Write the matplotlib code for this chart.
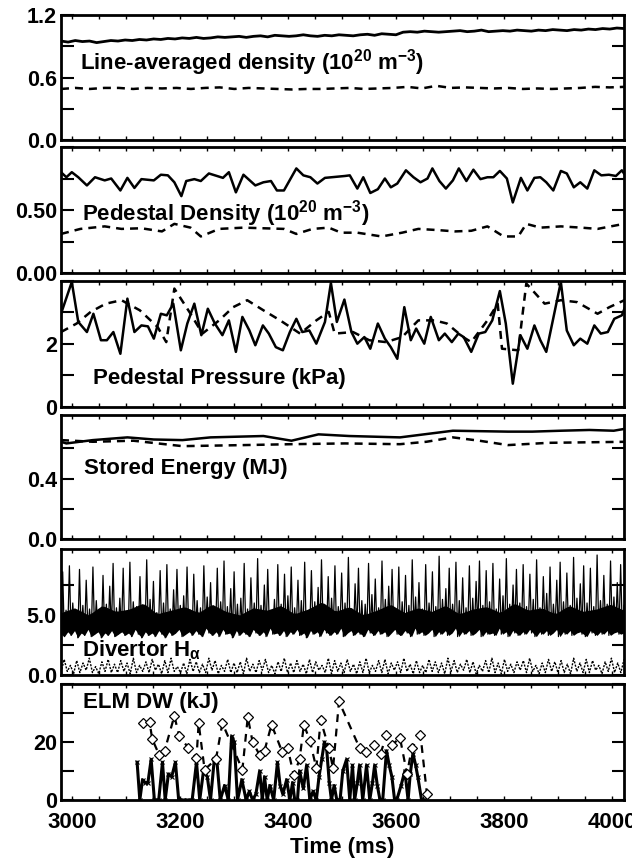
import numpy as np
import matplotlib
matplotlib.use("Agg")
from matplotlib import pyplot as plt
from matplotlib.ticker import MultipleLocator

plt.rcParams['font.family'] = ['Liberation Sans', 'DejaVu Sans']
plt.rcParams['font.weight'] = 'bold'
plt.rcParams['mathtext.fontset'] = 'custom'
plt.rcParams['mathtext.rm'] = 'Liberation Sans:bold'
plt.rcParams['mathtext.it'] = 'Liberation Sans:bold'
plt.rcParams['mathtext.bf'] = 'Liberation Sans:bold'
plt.rcParams['mathtext.default'] = 'rm'

T0, T1 = 2979, 4022

# --- line-averaged density (10^20 m^-3) ---
nel_a = [0.95, 0.94, 0.955, 0.945, 0.95, 0.935, 0.945, 0.955, 0.95, 0.96,
         0.955, 0.965, 0.96, 0.97, 0.965, 0.975, 0.97, 0.98, 0.975, 0.985,
         0.975, 0.98, 0.99, 0.985, 0.99, 0.995, 0.985, 0.995, 1.0, 0.99,
         1.005, 1.0, 0.995, 1.0, 1.01, 1.0, 0.995, 1.005, 1.0, 1.01,
         1.005, 1.0, 1.01, 1.015, 1.005, 1.02, 1.015, 1.01, 1.035, 1.04,
         1.035, 1.045, 1.04, 1.035, 1.04, 1.045, 1.05, 1.04, 1.045, 1.055,
         1.04, 1.045, 1.05, 1.045, 1.055, 1.05, 1.045, 1.055, 1.05, 1.06,
         1.055, 1.05, 1.06, 1.055, 1.065, 1.06, 1.07, 1.065, 1.075, 1.07]
nel_b = [0.49, 0.5, 0.49, 0.5, 0.5, 0.49, 0.5, 0.495, 0.5, 0.49,
         0.5, 0.505, 0.49, 0.5, 0.495, 0.49, 0.485, 0.49, 0.49, 0.495,
         0.5, 0.49, 0.495, 0.5, 0.51, 0.495, 0.52, 0.5, 0.505, 0.5,
         0.495, 0.5, 0.49, 0.495, 0.49, 0.495, 0.5, 0.51, 0.505, 0.51]

# --- pedestal density ---
ned_a_t = [2979, 2989, 2999, 3011, 3027, 3042, 3060, 3072, 3089, 3102,
           3115, 3128, 3151, 3164, 3177, 3189, 3202, 3211, 3226, 3238,
           3253, 3268, 3279, 3290, 3303, 3317, 3339, 3354, 3368, 3379,
           3392, 3415, 3428, 3441, 3454, 3468, 3505, 3514, 3528, 3539,
           3552, 3566, 3579, 3590, 3602, 3618, 3632, 3645, 3658, 3667,
           3680, 3692, 3705, 3716, 3730, 3743, 3756, 3769, 3780, 3792,
           3805, 3816, 3831, 3843, 3856, 3867, 3878, 3891, 3905, 3916,
           3929, 3941, 3954, 3967, 3980, 3994, 4007, 4018, 4022]
ned_a = [0.80, 0.76, 0.80, 0.76, 0.695, 0.76, 0.735, 0.75, 0.655, 0.755,
         0.675, 0.745, 0.735, 0.78, 0.775, 0.72, 0.61, 0.73, 0.745, 0.73,
         0.79, 0.77, 0.755, 0.80, 0.64, 0.78, 0.695, 0.72, 0.73, 0.655,
         0.655, 0.83, 0.775, 0.76, 0.71, 0.755, 0.77, 0.775, 0.67, 0.76,
         0.635, 0.665, 0.75, 0.68, 0.71, 0.815, 0.76, 0.72, 0.75, 0.83,
         0.73, 0.67, 0.735, 0.83, 0.73, 0.82, 0.745, 0.76, 0.76, 0.81,
         0.75, 0.56, 0.755, 0.655, 0.755, 0.76, 0.72, 0.655, 0.81, 0.79,
         0.68, 0.72, 0.67, 0.815, 0.775, 0.78, 0.77, 0.815, 0.79]
ned_b_t = [2979, 3015, 3060, 3091, 3128, 3166, 3189, 3219, 3238, 3272,
           3317, 3354, 3392, 3415, 3445, 3475, 3498, 3528, 3573, 3611,
           3641, 3679, 3709, 3739, 3769, 3799, 3826, 3841, 3867, 3905,
           3943, 3973, 4022]
ned_b = [0.31, 0.35, 0.37, 0.35, 0.355, 0.33, 0.39, 0.36, 0.29, 0.35,
         0.36, 0.355, 0.35, 0.31, 0.35, 0.36, 0.32, 0.32, 0.29, 0.32,
         0.35, 0.34, 0.33, 0.335, 0.37, 0.29, 0.29, 0.39, 0.36, 0.37,
         0.36, 0.35, 0.39]

# --- pedestal pressure (kPa) ---
pp_a_t = [2979, 2999, 3011, 3027, 3039, 3053, 3064, 3076, 3089, 3102,
          3115, 3128, 3140, 3151, 3164, 3175, 3187, 3201, 3213, 3226,
          3239, 3251, 3264, 3278, 3290, 3303, 3315, 3328, 3339, 3353,
          3364, 3377, 3390, 3403, 3415, 3426, 3439, 3452, 3468, 3479,
          3490, 3504, 3517, 3528, 3541, 3552, 3566, 3579, 3590, 3602,
          3615, 3627, 3637, 3652, 3664, 3679, 3690, 3703, 3715, 3725,
          3739, 3753, 3765, 3778, 3792, 3803, 3816, 3830, 3843, 3856,
          3867, 3878, 3905, 3916, 3929, 3941, 3954, 3967, 3979, 3992,
          4004, 4018, 4029]
pp_a = [2.96, 3.97, 2.70, 2.38, 2.96, 2.12, 2.12, 2.38, 1.69, 3.44,
        2.38, 2.59, 2.56, 2.17, 2.96, 2.91, 3.28, 1.80, 2.65, 3.28,
        2.28, 3.12, 2.65, 2.28, 2.75, 1.75, 2.86, 2.43, 1.96, 2.59,
        2.33, 1.90, 1.80, 2.38, 2.80, 2.38, 2.43, 2.01, 2.70, 3.94,
        2.70, 3.41, 2.38, 2.01, 2.22, 1.85, 2.65, 2.17, 1.90, 1.53,
        3.17, 2.12, 2.49, 2.01, 2.86, 2.12, 2.33, 2.06, 2.33, 2.22,
        1.75, 2.33, 2.38, 2.75, 3.68, 2.65, 0.74, 2.28, 1.85, 2.59,
        2.12, 1.75, 3.97, 2.43, 1.96, 2.17, 2.01, 2.59, 2.33, 2.38,
        2.80, 2.91, 3.39]
pp_b_t = [2979, 3008, 3034, 3062, 3091, 3125, 3158, 3174, 3189, 3219,
          3241, 3272, 3298, 3324, 3354, 3385, 3422, 3452, 3475, 3486,
          3520, 3550, 3581, 3611, 3641, 3671, 3694, 3724, 3739, 3769,
          3788, 3796, 3826, 3841, 3875, 3905, 3935, 3973, 3995, 4029]
pp_b = [2.38, 2.65, 3.02, 3.28, 3.39, 3.07, 2.54, 2.06, 3.76, 2.96,
        2.33, 2.75, 3.17, 3.39, 3.07, 2.75, 2.33, 2.75, 3.02, 2.33,
        2.38, 2.12, 2.06, 2.22, 2.75, 2.75, 2.65, 2.22, 2.06, 2.75,
        3.28, 1.85, 1.80, 3.92, 3.28, 3.39, 3.33, 2.96, 3.17, 3.44]

# --- stored energy (MJ) ---
we_a_t = [2979, 2989, 3038, 3102, 3151, 3204, 3256, 3354, 3406, 3456,
          3513, 3607, 3656, 3705, 3807, 3852, 3905, 3958, 4003, 4029]
we_a = [0.643, 0.632, 0.654, 0.672, 0.658, 0.654, 0.672, 0.681, 0.650, 0.692,
        0.681, 0.672, 0.694, 0.716, 0.710, 0.710, 0.716, 0.721, 0.716, 0.732]
we_b_t = [2979, 3038, 3113, 3204, 3317, 3406, 3505, 3607, 3656, 3705,
          3754, 3807, 3882, 4029]
we_b = [0.654, 0.643, 0.650, 0.614, 0.621, 0.627, 0.632, 0.627, 0.643, 0.672,
        0.650, 0.621, 0.636, 0.643]

# --- divertor H-alpha: trough / peak values of consecutive ELM spikes ---
ha_lo = [3.4, 3.2, 3.6, 3.3, 3.7, 3.1, 3.5, 3.3, 3.8, 3.2, 3.4, 3.6, 3.1, 3.5, 3.3, 3.7, 3.2, 3.4, 3.6, 3.3,
         3.5, 3.2, 3.8, 3.4, 3.1, 3.6, 3.3, 3.5, 3.2, 3.7, 3.4, 3.1, 3.6, 3.3, 3.5, 3.8, 3.2, 3.4, 3.6, 3.3,
         3.7, 3.4, 3.2, 3.9, 3.5, 3.3, 3.6, 3.2, 3.8, 3.4, 3.5, 3.1, 3.7, 3.3, 3.6, 3.4, 3.2, 3.8, 3.5, 3.3,
         3.6, 3.2, 3.9, 3.4, 3.5, 3.3, 3.7, 3.2, 3.6, 3.4, 3.8, 3.3, 3.5, 3.1, 3.7, 3.4, 3.6, 3.2, 3.8, 3.5,
         3.3, 3.6, 3.4, 3.9, 3.2, 3.5, 3.7, 3.3, 3.6, 3.4, 3.2, 3.8, 3.5, 3.3, 3.7, 3.4, 3.6, 3.2, 3.5, 3.8,
         3.4, 3.3, 3.7, 3.5, 3.2, 3.9, 3.4, 3.6, 3.3, 3.5, 3.8, 3.2, 3.6, 3.4, 3.7, 3.3, 3.5, 3.9, 3.2, 3.6,
         3.4, 3.7, 3.3, 3.5, 3.8, 3.2, 3.6, 3.4, 3.5, 3.3, 3.9, 3.4, 3.6, 3.2, 3.7, 3.5, 3.3, 3.6, 3.4, 3.8,
         3.5, 3.2, 3.6, 3.4, 3.7, 3.3, 3.5, 3.8, 3.2, 3.6, 3.4, 3.7, 3.3, 3.5, 3.6, 3.4, 3.2, 3.7, 3.5, 3.3,
         3.6, 3.4, 3.7, 3.3, 3.5, 3.6, 3.4, 3.5]
ha_hi = [8.6, 5.4, 9.1, 6.0, 5.2, 8.8, 5.8, 7.9, 5.5, 9.0, 6.2, 5.1, 8.3, 5.9, 7.4, 9.3, 5.6, 6.4, 8.9, 5.3,
         9.4, 6.1, 5.7, 8.2, 5.4, 9.6, 6.3, 7.8, 5.2, 8.7, 6.0, 9.2, 5.5, 7.1, 8.8, 5.8, 6.6, 9.0, 5.4, 8.4,
         6.2, 5.6, 9.1, 6.5, 7.7, 5.3, 8.9, 6.1, 9.5, 5.7, 7.2, 8.6, 5.9, 6.4, 9.3, 5.5, 8.1, 6.0, 9.7, 5.8,
         7.5, 8.8, 5.4, 6.3, 9.2, 5.9, 8.4, 6.6, 9.0, 5.6, 7.9, 6.2, 9.4, 5.3, 8.7, 6.1, 7.3, 9.6, 5.8, 8.2,
         6.4, 9.1, 5.7, 8.5, 6.0, 9.8, 5.5, 7.6, 8.9, 6.2, 5.9, 9.3, 6.7, 8.0, 5.6, 9.5, 6.3, 7.4, 8.8, 5.4,
         9.0, 6.1, 8.3, 5.8, 9.6, 6.5, 7.7, 5.5, 9.2, 6.0, 8.6, 5.7, 9.9, 6.3, 7.2, 8.9, 5.9, 9.4, 6.2, 8.1,
         5.6, 9.1, 6.4, 7.8, 9.5, 5.8, 8.7, 6.1, 9.3, 5.5, 8.0, 6.6, 9.7, 5.9, 7.5, 8.8, 6.0, 9.2, 5.7, 8.4,
         6.3, 9.6, 5.6, 8.2, 6.8, 9.0, 5.9, 7.9, 9.4, 6.1, 8.5, 5.8, 9.8, 6.4, 7.6, 9.1, 6.0, 8.9, 5.7, 10.0,
         6.2, 8.3, 5.9, 9.5, 6.5, 7.7, 9.2, 5.8]
# upper edge of the dense inter-ELM band (sampled coarser)
ha_band = [5.2, 5.6, 5.0, 5.8, 5.3, 5.5, 6.0, 5.1, 5.4, 5.7, 5.2, 5.9, 5.3, 5.0,
           5.6, 5.4, 5.8, 5.1, 5.5, 6.1, 5.3, 5.7, 5.0, 5.4, 5.9, 5.2, 5.6, 5.3,
           5.8, 5.1, 5.5, 5.7, 5.2, 6.0, 5.4, 5.6, 5.1, 5.8, 5.3, 5.5, 5.9, 5.4]
hb_lo = [0.2, 0.3, 0.1, 0.2, 0.4, 0.2, 0.1, 0.3, 0.2, 0.2,
         0.3, 0.1, 0.2, 0.3, 0.2, 0.4, 0.1, 0.2, 0.3, 0.2,
         0.1, 0.3, 0.2, 0.2, 0.4, 0.1, 0.3, 0.2, 0.2, 0.1,
         0.3, 0.2, 0.4, 0.2, 0.1, 0.3, 0.2, 0.2, 0.3, 0.1,
         0.2, 0.4, 0.2, 0.1, 0.3, 0.2, 0.3, 0.1, 0.2, 0.2,
         0.3, 0.2, 0.1, 0.4, 0.2, 0.3, 0.1, 0.2, 0.2, 0.3,
         0.2, 0.1, 0.3, 0.2, 0.4, 0.2, 0.1, 0.3, 0.2, 0.2,
         0.1, 0.3, 0.2, 0.4, 0.2, 0.3, 0.1, 0.2, 0.3, 0.2,
         0.2, 0.1, 0.3, 0.2, 0.2, 0.4, 0.1, 0.3, 0.2, 0.2]
hb_hi = [1.3, 0.8, 1.2, 1.0, 1.4, 0.7, 1.1, 1.3, 0.9, 1.2,
         1.0, 1.4, 0.8, 1.1, 1.3, 0.9, 1.2, 1.4, 0.7, 1.0,
         1.3, 1.1, 0.9, 1.4, 1.2, 0.8, 1.3, 1.0, 1.1, 1.4,
         0.9, 1.2, 1.3, 0.8, 1.1, 1.4, 1.0, 1.2, 0.9, 1.3,
         1.1, 0.8, 1.4, 1.2, 1.0, 1.3, 0.9, 1.1, 1.4, 0.8,
         1.2, 1.3, 1.0, 1.1, 1.4, 0.9, 1.2, 0.8, 1.3, 1.1,
         1.0, 1.4, 1.2, 0.9, 1.3, 1.1, 0.8, 1.2, 1.4, 1.0,
         1.3, 0.9, 1.1, 1.2, 1.4, 0.8, 1.0, 1.3, 1.1, 1.2,
         0.9, 1.4, 1.0, 1.3, 1.2, 0.8, 1.1, 1.4, 1.0, 1.3]

# --- ELM energy loss (kJ) ---
elm_a_t = [3120, 3125, 3130, 3135, 3140, 3146, 3152, 3160, 3167, 3172,
           3178, 3184, 3191, 3197, 3205, 3212, 3222, 3230, 3236, 3243,
           3250, 3256, 3263, 3268, 3274, 3282, 3289, 3295, 3300, 3306,
           3314, 3322, 3328, 3334, 3340, 3347, 3352, 3356, 3361, 3366,
           3373, 3380, 3385, 3390, 3397, 3403, 3408, 3412, 3417, 3421,
           3428, 3434, 3440, 3446, 3452, 3457, 3462, 3467, 3471, 3476,
           3480, 3485, 3490, 3496, 3501, 3508, 3514, 3519, 3523, 3528,
           3532, 3538, 3545, 3551, 3556, 3560, 3565, 3570, 3575, 3582,
           3587, 3592, 3597, 3601, 3609, 3616, 3622, 3626, 3631, 3636,
           3640, 3647, 3652]
elm_a = [13, 0, 7, 6, 6, 14, 0, 0, 13, 0,
         9, 8, 13, 0, 0, 0, 0, 13, 0, 10,
         8, 0, 14, 13, 0, 5, 0, 22, 20, 0,
         7, 0, 3, 0, 2, 10, 0, 8, 0, 5,
         0, 13, 5, 2, 7, 0, 6, 0, 0, 10,
         4, 12, 0, 3, 0, 8, 14, 20, 18, 6,
         0, 5, 0, 0, 10, 14, 0, 12, 0, 6,
         12, 0, 12, 0, 6, 12, 5, 0, 0, 17,
         12, 8, 0, 0, 5, 10, 0, 9, 16, 12,
         8, 0, 0]
elm_b_t = [3130, 3143, 3148, 3161, 3171, 3189, 3198, 3215, 3230, 3234,
           3245, 3266, 3278, 3315, 3325, 3334, 3347, 3356, 3369, 3389,
           3399, 3410, 3421, 3429, 3440, 3452, 3460, 3475, 3483, 3494,
           3532, 3544, 3558, 3571, 3582, 3592, 3607, 3620, 3629, 3645,
           3657]
elm_b = [26.5, 27, 21, 15.5, 17, 29, 22, 18, 14.5, 26.5,
         10.5, 14, 26.5, 10.4, 28.6, 20, 15.5, 17, 26, 16.5,
         18, 8.6, 14, 26, 20.5, 11, 27.6, 18, 11, 34,
         18, 16.5, 19, 16, 22.4, 19, 21.4, 9, 18, 22.4,
         2]

# panel rectangles in pixels (top, bottom) on a 632x865 canvas
W, H = 632, 865
rows = [(15, 140), (147, 273), (281, 407), (415, 539), (549, 675), (684, 800)]
x_left, x_right = 61, 624

fig = plt.figure(figsize=(W / 100, H / 100), dpi=100)
axes = []
for top, bot in rows:
    ax = fig.add_axes([x_left / W, 1 - bot / H, (x_right - x_left) / W, (bot - top) / H])
    axes.append(ax)

dash = (3.2, 2.4)
lw = 1.8

ax = axes[0]
ax.plot(np.linspace(T0, T1, len(nel_a)), nel_a, color='k', lw=2.0)
ax.plot(np.linspace(T0, T1, len(nel_b)), nel_b, color='k', lw=lw, dashes=dash)

ax = axes[1]
ax.plot(ned_a_t, ned_a, color='k', lw=lw)
ax.plot(ned_b_t, ned_b, color='k', lw=lw, dashes=dash)

ax = axes[2]
ax.plot(pp_a_t, pp_a, color='k', lw=lw)
ax.plot(pp_b_t, pp_b, color='k', lw=lw, dashes=dash)

ax = axes[3]
ax.plot(we_a_t, we_a, color='k', lw=lw)
ax.plot(we_b_t, we_b, color='k', lw=lw, dashes=dash)

ax = axes[4]
t_pair = np.linspace(T0, T1, len(ha_lo))
band_top = np.interp(t_pair, np.linspace(T0, T1, len(ha_band)), ha_band)
ax.fill_between(t_pair, ha_lo, band_top, color='k', lw=0)
ha = np.column_stack([ha_lo, ha_hi]).ravel()
ax.plot(np.linspace(T0, T1, len(ha)), ha, color='k', lw=0.9)
hb = np.column_stack([hb_lo, hb_hi]).ravel()
ax.plot(np.linspace(T0, T1, len(hb)), hb, color='k', lw=1.0, dashes=(1.5, 1.0))

ax = axes[5]
ax.plot(elm_a_t, elm_a, color='k', lw=2.2, marker='x', ms=3, mew=0.8)
ax.plot(elm_b_t, elm_b, color='k', lw=1.6, dashes=(3.5, 3),
        marker='D', ms=5, mfc='white', mec='k', mew=0.9)

ylims = [(0, 1.2), (0, 1.0), (0, 4), (0, 0.82), (0, 10.5), (0, 40)]
yticks = [[0, 0.3, 0.6, 0.9, 1.2], [0, 0.25, 0.5, 0.75, 1.0], [0, 1, 2, 3, 4],
          [0, 0.2, 0.4, 0.6], [0, 2.5, 5, 7.5], [0, 10, 20, 30, 40]]
ylabels = [['0.0', '', '0.6', '', '1.2'], ['0.00', '', '0.50', '', ''], ['0', '', '2', '', ''],
           ['0.0', '', '0.4', ''], ['0.0', '', '5.0', ''], ['0', '', '20', '', '']]
titles = ["Line-averaged density (10$^{20}$ m$^{-3}$)",
          "Pedestal Density (10$^{20}$ m$^{-3}$)",
          "Pedestal Pressure (kPa)",
          "Stored Energy (MJ)",
          "Divertor H$_{\\alpha}$",
          "ELM DW (kJ)"]
title_pos = [(0.034, 0.62), (0.038, 0.47), (0.057, 0.23), (0.041, 0.57), (0.038, 0.2), (0.039, 0.84)]

for i, ax in enumerate(axes):
    ax.set_xlim(T0, T1)
    ax.set_ylim(*ylims[i])
    ax.set_yticks(yticks[i])
    ax.set_yticklabels(ylabels[i], fontsize=15.5, fontweight='bold')
    ax.xaxis.set_major_locator(MultipleLocator(200))
    ax.xaxis.set_minor_locator(MultipleLocator(50))
    ax.tick_params(axis='y', direction='in', length=9, width=1.5, left=True, right=True, pad=3)
    ax.tick_params(axis='x', which='both', direction='in', length=3, width=1, top=True, bottom=True)
    for s in ax.spines.values():
        s.set_linewidth(2.0)
    if i < 5:
        ax.set_xticklabels([])
    else:
        ax.tick_params(axis='x', labelsize=16, pad=9)
        for lab in ax.get_xticklabels():
            lab.set_fontweight('bold')
    ax.text(title_pos[i][0], title_pos[i][1], titles[i], transform=ax.transAxes,
            ha='left', va='center', fontsize=16, fontweight='bold')

fig.text(342 / W, 1 - 848 / H, "Time (ms)", ha='center', va='center', fontsize=16, fontweight='bold')

fig.savefig('out.png', dpi=100)
